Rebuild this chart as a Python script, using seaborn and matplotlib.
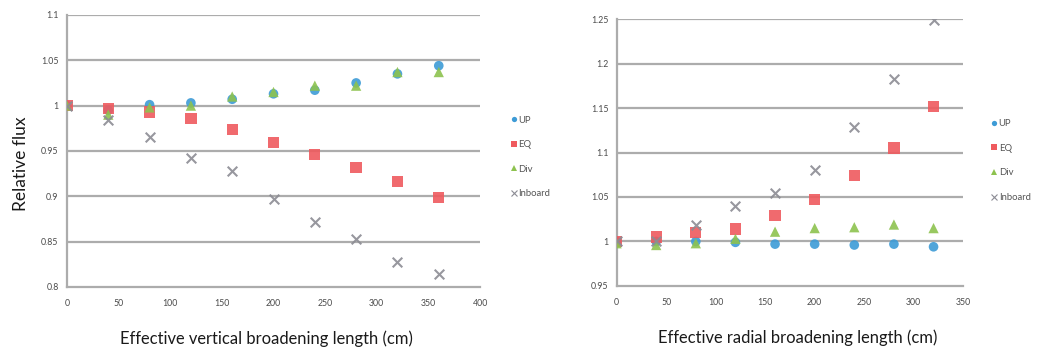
import numpy as np
import pandas as pd
import matplotlib
matplotlib.use("Agg")
import matplotlib.pyplot as plt
import seaborn as sns

# Vertical broadening scan
vert_len = [0, 40, 80, 120, 160, 200, 240, 280, 320, 360]
vert_up = [1.000, 0.995, 1.001, 1.003, 1.007, 1.013, 1.017, 1.025, 1.035, 1.044]
vert_eq = [1.000, 0.997, 0.993, 0.986, 0.974, 0.959, 0.946, 0.932, 0.916, 0.899]
vert_div = [1.000, 0.990, 0.998, 1.000, 1.010, 1.015, 1.022, 1.022, 1.037, 1.037]
vert_inb = [1.000, 0.984, 0.965, 0.942, 0.928, 0.897, 0.872, 0.853, 0.827, 0.814]

# Radial broadening scan
rad_len = [0, 40, 80, 120, 160, 200, 240, 280, 320]
rad_up = [1.000, 1.000, 1.000, 0.999, 0.997, 0.997, 0.996, 0.997, 0.994]
rad_eq = [1.000, 1.005, 1.010, 1.014, 1.029, 1.047, 1.074, 1.105, 1.152]
rad_div = [0.998, 0.996, 0.998, 1.003, 1.011, 1.015, 1.016, 1.019, 1.015]
rad_inb = [1.000, 1.000, 1.018, 1.040, 1.055, 1.080, 1.129, 1.183, 1.249]

series = ["UP", "EQ", "Div", "Inboard"]
colors = {"UP": "#3d9bd6", "EQ": "#ef5a5e", "Div": "#8dc24f", "Inboard": "#8c8c94"}
markers = {"UP": "o", "EQ": "s", "Div": "^", "Inboard": "x"}
sizes = {"UP": 48, "EQ": 66, "Div": 55, "Inboard": 48}

left_ticks_x = [0, 50, 100, 150, 200, 250, 300, 350, 400]
left_ticks_y = [0.8, 0.85, 0.9, 0.95, 1.0, 1.05, 1.1]
left_labels_y = ["0.8", "0.85", "0.9", "0.95", "1", "1.05", "1.1"]
right_ticks_x = [0, 50, 100, 150, 200, 250, 300, 350]
right_ticks_y = [0.95, 1.0, 1.05, 1.1, 1.15, 1.2, 1.25]
right_labels_y = ["0.95", "1", "1.05", "1.1", "1.15", "1.2", "1.25"]


def long_frame(x, up, eq, div, inb):
    rows = []
    for name, vals in zip(series, [up, eq, div, inb]):
        for xv, yv in zip(x, vals):
            rows.append({"length": xv, "flux": yv, "region": name})
    return pd.DataFrame(rows)


df_vert = long_frame(vert_len, vert_up, vert_eq, vert_div, vert_inb)
df_rad = long_frame(rad_len, rad_up, rad_eq, rad_div, rad_inb)

sns.set_theme(style="white")
plt.rcParams["font.family"] = ["Lato", "DejaVu Sans"]

fig = plt.figure(figsize=(10.38, 3.47), dpi=100)
ax1 = fig.add_axes([0.0645, 0.173, 0.398, 0.784])
ax2 = fig.add_axes([0.594, 0.176, 0.334, 0.769])

grid_c = "#acacac"
tick_c = "#4a4a4a"


def draw(ax, df, xt, yt, ylabels, xlabel, xlabel_pos, legend_anchor):
    handles = []
    for name in series:
        sub = df[df["region"] == name]
        kw = dict(linewidth=1.5) if markers[name] == "x" else dict(edgecolor="none")
        sns.scatterplot(data=sub, x="length", y="flux", marker=markers[name],
                        color=colors[name], s=sizes[name], ax=ax, zorder=3,
                        alpha=0.9, **kw)
        handles.append(plt.Line2D([], [], linestyle="none", marker=markers[name],
                                  color=colors[name], markersize=3.8,
                                  markeredgewidth=0.8 if markers[name] == "x" else 0))
    ax.set_xlim(xt[0], xt[-1])
    ax.set_ylim(yt[0], yt[-1])
    ax.set_xticks(xt)
    ax.set_yticks(yt)
    ax.set_yticklabels(ylabels)
    ax.tick_params(axis="both", labelsize=6.3, colors=tick_c, length=0, pad=6)
    ax.tick_params(axis="x", length=3, color=grid_c, width=1, direction="out")
    for yv in yt[1:]:
        ax.axhline(yv, color=grid_c, lw=1.6, zorder=1)
    for sp in ["top", "right"]:
        ax.spines[sp].set_visible(False)
    for sp in ["left", "bottom"]:
        ax.spines[sp].set_color(grid_c)
        ax.spines[sp].set_linewidth(1.6)
    ax.set_xlabel(xlabel, fontsize=11.9, color="#1a1a1a", labelpad=16)
    ax.xaxis.label.set_x(xlabel_pos)
    ax.set_ylabel("")
    ax.legend(handles, series, loc="center left", bbox_to_anchor=legend_anchor,
              frameon=False, fontsize=6.8, labelcolor="#555555",
              handletextpad=0.05, handlelength=0.8, labelspacing=1.65,
              borderaxespad=0)


draw(ax1, df_vert, left_ticks_x, left_ticks_y, left_labels_y,
     "Effective vertical broadening length (cm)", 0.482, (1.063, 0.478))
ax1.set_ylabel("Relative flux", fontsize=12.5, color="#1a1a1a", labelpad=9)
ax1.yaxis.label.set_y(0.452)
draw(ax2, df_rad, right_ticks_x, right_ticks_y, right_labels_y,
     "Effective radial broadening length (cm)", 0.522, (1.068, 0.47))

fig.savefig("out.png", dpi=100)
